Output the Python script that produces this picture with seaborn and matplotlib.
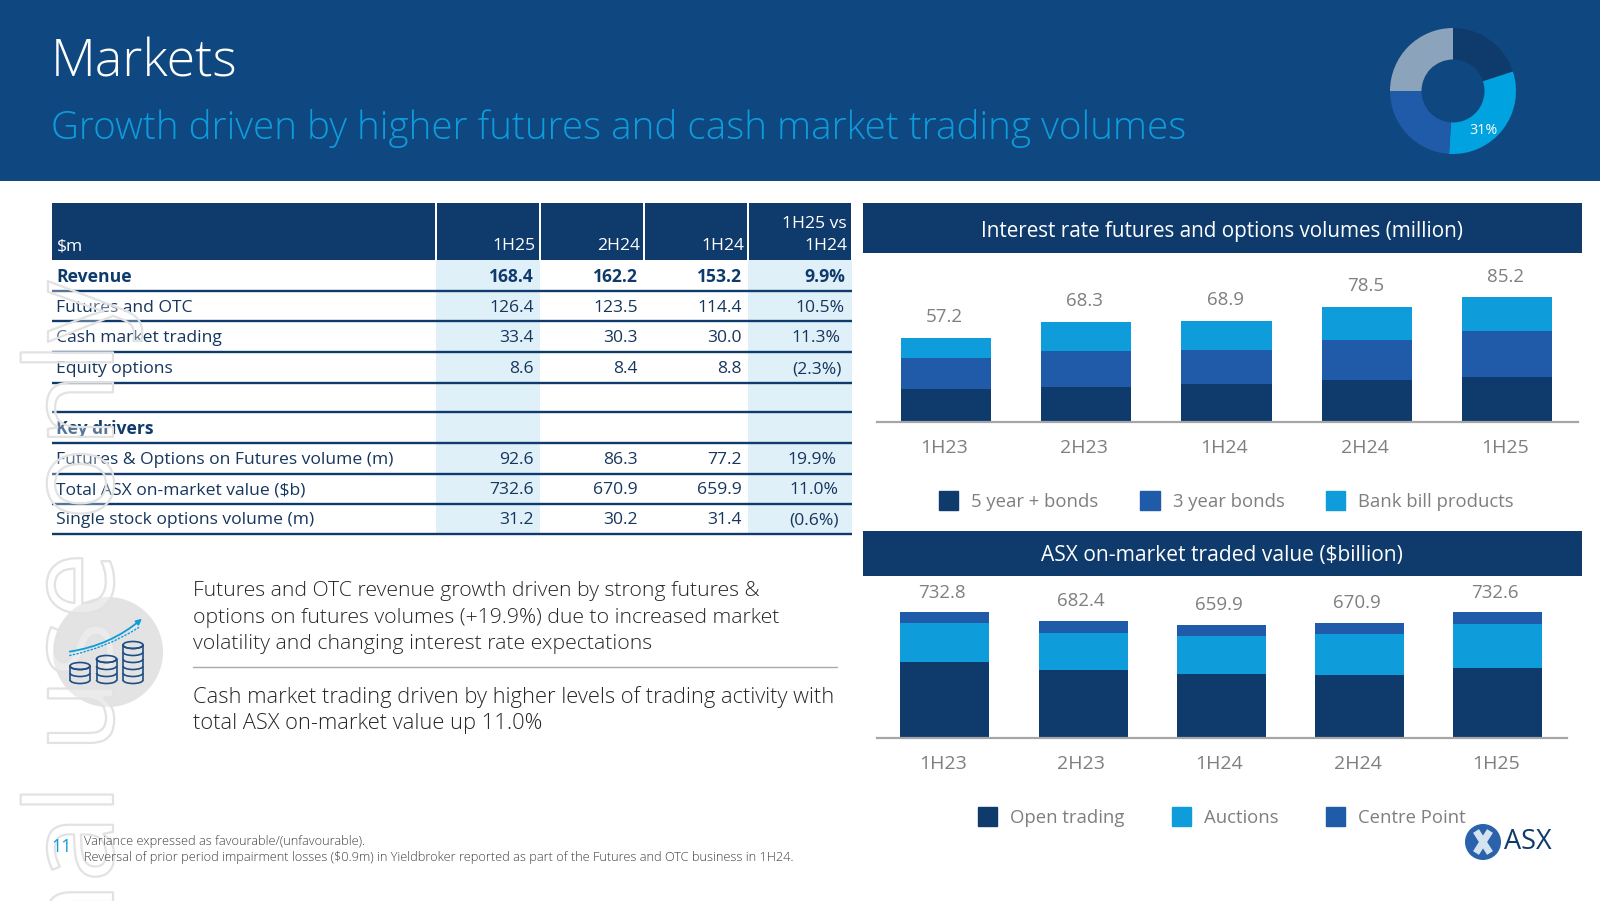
import numpy as np
import pandas as pd
import seaborn as sns
import matplotlib.pyplot as plt
from matplotlib.patches import Rectangle, Circle, Ellipse, Arc, Patch, FancyArrowPatch
from matplotlib.transforms import ScaledTranslation
import matplotlib.patheffects as pe

# chart data
periods = ["1H23", "2H23", "1H24", "2H24", "1H25"]
long_bonds = [22.4, 23.5, 25.8, 28.1, 30.2]
three_year = [21.0, 24.5, 23.3, 27.9, 31.6]
bank_bills = [13.8, 20.3, 19.8, 22.5, 23.4]
volume_labels = ["57.2", "68.3", "68.9", "78.5", "85.2"]

open_trading = [445, 396, 376, 366, 406]
auctions = [227, 219, 219, 239, 258]
centre_point = [60.8, 67.4, 64.9, 65.9, 68.6]
value_labels = ["732.8", "682.4", "659.9", "670.9", "732.6"]

# table
table_cols = ["1H25", "2H24", "1H24"]
row_names = ["Revenue", "Futures and OTC", "Cash market trading", "Equity options", "",
             "Key drivers", "Futures & Options on Futures volume (m)",
             "Total ASX on-market value ($b)", "Single stock options volume (m)"]
col_1h25 = ["168.4", "126.4", "33.4", "8.6", "", "", "92.6", "732.6", "31.2"]
col_2h24 = ["162.2", "123.5", "30.3", "8.4", "", "", "86.3", "670.9", "30.2"]
col_1h24 = ["153.2", "114.4", "30.0", "8.8", "", "", "77.2", "659.9", "31.4"]
col_var = ["9.9%", "10.5%", "11.3%", "(2.3%)", "", "", "19.9%", "11.0%", "(0.6%)"]

donut_vals = [20, 31, 24, 25]

NAVY = "#0F3B6C"
MID = "#1F5BA8"
SKY = "#0F9CDB"
BAND = "#0F4880"
GREY = "#7F7F7F"
TEXT = "#262626"
ROW_TEXT = "#17365D"

sns.set_theme(style="white")
plt.rcParams["font.family"] = ["Open Sans", "DejaVu Sans"]

W, H = 1600, 901
fig = plt.figure(figsize=(W / 100, H / 100), dpi=100)


def px_axes(left, top, right, bottom, **kw):
    return fig.add_axes([left / W, 1 - bottom / H, (right - left) / W, (bottom - top) / H], **kw)


bg = px_axes(0, 0, W, H)
bg.set_xlim(0, W)
bg.set_ylim(H, 0)
bg.axis("off")

# header
bg.add_patch(Rectangle((0, 0), W, 181, color=BAND, lw=0))
bg.text(51, 63, "Markets", color="white", fontsize=37.4, fontweight="light", va="center")
bg.text(51, 129, "Growth driven by higher futures and cash market trading volumes",
        color="#0E9BDC", fontsize=27.8, fontweight="light", va="center")

# watermark, white wash over whatever is under it
bg.text(113, 281, "For personal use only", rotation=90, rotation_mode="anchor", ha="right",
        va="baseline", fontsize=87.5, color=(1, 1, 1, 0.3), zorder=10,
        path_effects=[pe.Stroke(linewidth=1.6, foreground="#E2E2E2")])

# table
col_edges = [436, 540, 644, 748, 852]
row_lines = [260, 291, 321, 352, 383, 412, 443, 473.5, 504, 534]
bg.add_patch(Rectangle((52, 203), 383, 57, color=NAVY, lw=0))
for k in range(4):
    bg.add_patch(Rectangle((col_edges[k] + 1, 203), col_edges[k + 1] - col_edges[k] - 2, 57, color=NAVY, lw=0))
for k in [0, 3]:
    bg.add_patch(Rectangle((col_edges[k], 260), col_edges[k + 1] - col_edges[k], 274,
                           color="#DFF0F9", lw=0, zorder=0.8))
for y in row_lines[1:]:
    bg.plot([52, 852], [y, y], color=NAVY, lw=1.7, solid_capstyle="butt", zorder=2)

bg.text(57, 246, "$m", color="white", fontsize=12.6, va="center")
for k, lab in enumerate(table_cols):
    bg.text(col_edges[k + 1] - 4, 246, lab, color="white", fontsize=12.6, ha="right", va="center")
bg.text(847, 224, "1H25 vs", color="white", fontsize=12.6, ha="right", va="center")
bg.text(847, 246, "1H24", color="white", fontsize=12.6, ha="right", va="center")

var_right = [845, 845, 840, 842, 842, 842, 836, 838, 839]
for r, name in enumerate(row_names):
    yc = (row_lines[r] + row_lines[r + 1]) / 2 + 1.5
    weight = "bold" if r in (0, 5) else "normal"
    colour = NAVY if r in (0, 5) else ROW_TEXT
    bg.text(56.5, yc, name, color=colour, fontsize=12.6, fontweight=weight, va="center", zorder=3)
    for k, col in enumerate([col_1h25, col_2h24, col_1h24]):
        bg.text(col_edges[k + 1] - 6, yc, col[r], color=colour, fontsize=12.6, fontweight=weight,
                ha="right", va="center", zorder=3)
    bg.text(var_right[r], yc, col_var[r], color=colour, fontsize=12.6, fontweight=weight,
            ha="right", va="center", zorder=3)

# commentary
para1 = ["Futures and OTC revenue growth driven by strong futures &",
         "options on futures volumes (+19.9%) due to increased market",
         "volatility and changing interest rate expectations"]
para2 = ["Cash market trading driven by higher levels of trading activity with",
         "total ASX on-market value up 11.0%"]
for line, y in zip(para1, [591, 617.5, 644]):
    bg.text(193, y, line, color=TEXT, fontsize=15.35, fontweight="light", va="center")
for line, y in zip(para2, [697, 723.5]):
    bg.text(193, y, line, color=TEXT, fontsize=15.75, fontweight="light", va="center")
bg.plot([193, 837], [667, 667], color="#ABABAB", lw=1.0)

# coins icon
bg.add_patch(Circle((108, 652), 55, color="#E3E3E3", lw=0, zorder=1))
COIN = "#1F4E84"
for cx, n in [(80, 3), (106.5, 4), (133, 6)]:
    base = 680
    top = base - (n - 1) * 7
    bg.add_patch(Ellipse((cx, top), 20, 7, fc="none", ec=COIN, lw=1.2, zorder=11))
    for j in range(n):
        bg.add_patch(Arc((cx, base - j * 7), 20, 7, theta1=0, theta2=180, ec=COIN, lw=1.2, zorder=11))
    bg.plot([cx - 10, cx - 10], [top, base], color=COIN, lw=1.2, zorder=11)
    bg.plot([cx + 10, cx + 10], [top, base], color=COIN, lw=1.2, zorder=11)
bg.add_patch(FancyArrowPatch((67, 652), (144, 617), connectionstyle="arc3,rad=0.15", arrowstyle="-|>",
                             mutation_scale=8, color=SKY, lw=1.3, zorder=11))
bg.add_patch(FancyArrowPatch((67, 656), (141, 626), connectionstyle="arc3,rad=0.1", arrowstyle="-",
                             color=SKY, lw=1.0, linestyle=":", zorder=11))

# footer sits above the watermark
bg.text(51, 847, "11", color="#0E9BDC", fontsize=13, va="center", zorder=11)
bg.text(84, 841, "Variance expressed as favourable/(unfavourable).", color="#404040", fontsize=9.2,
        fontweight="light", va="center", zorder=11)
bg.text(84, 857, "Reversal of prior period impairment losses ($0.9m) in Yieldbroker reported as part of the "
        "Futures and OTC business in 1H24.", color="#404040", fontsize=9.2, fontweight="light",
        va="center", zorder=11)

# logo
bg.add_patch(Circle((1483, 842), 18, color="#2A62AC", lw=0, zorder=3))
bg.plot([1476, 1490], [831, 853], color="#D5E3F1", lw=5, zorder=4, solid_capstyle="butt")
bg.plot([1490, 1476], [831, 853], color="#D5E3F1", lw=5, zorder=4, solid_capstyle="butt")
bg.text(1504, 842, "ASX", color=NAVY, fontsize=19.5, va="center", zorder=4)

# chart title bands
bg.add_patch(Rectangle((863, 203), 719, 50, color=NAVY, lw=0))
bg.text(1222, 231, "Interest rate futures and options volumes (million)", color="white",
        fontsize=14.85, ha="center", va="center")
bg.add_patch(Rectangle((863, 531), 719, 44.5, color=NAVY, lw=0))
bg.text(1222, 555, "ASX on-market traded value ($billion)", color="white",
        fontsize=15.1, ha="center", va="center")


def stacked(ax, series, colours, labels, ymax, xlim, legend_at, col_space):
    df = pd.DataFrame(dict(zip(labels, series)), index=periods)
    tops = df.cumsum(axis=1)
    # tallest first so the lower segments paint over it
    for name, colour in reversed(list(zip(labels, colours))):
        sns.barplot(x=periods, y=tops[name].values, color=colour, width=0.644, saturation=1,
                    linewidth=0, ax=ax)
    ax.set_xlim(*xlim)
    ax.set_ylim(0, ymax)
    ax.patch.set_alpha(0)
    ax.set_yticks([])
    ax.set_ylabel("")
    sns.despine(ax=ax, left=True)
    ax.spines["bottom"].set_color("#A6A6A6")
    ax.spines["bottom"].set_linewidth(1.6)
    ax.tick_params(axis="x", length=0, pad=12.5, labelsize=14, labelcolor=GREY)
    nudge = ScaledTranslation(-2 / 100, 0, fig.dpi_scale_trans)
    for lab in ax.get_xticklabels():
        lab.set_transform(lab.get_transform() + nudge)
    handles = [Patch(color=c, label=n) for n, c in zip(labels, colours)]
    ax.legend(handles=handles, ncol=3, frameon=False, loc="center", bbox_to_anchor=legend_at,
              bbox_transform=fig.transFigure, fontsize=13.3, labelcolor=GREY, handlelength=1.05,
              handleheight=1.2, handletextpad=0.7, columnspacing=col_space)


ax1 = px_axes(876.5, 261, 1578, 421.5)
stacked(ax1, [long_bonds, three_year, bank_bills], [NAVY, MID, SKY],
        ["5 year + bonds", "3 year bonds", "Bank bill products"], 110, (-0.4955, 4.506),
        (1226.5 / W, 1 - 501 / H), 2.25)
for i, lab in enumerate(volume_labels):
    total = long_bonds[i] + three_year[i] + bank_bills[i]
    ax1.annotate(lab, (i, total), xytext=(-1, 14.8), textcoords="offset points", ha="center",
                 va="center", fontsize=13.5, color=GREY)

ax2 = px_axes(876.5, 580, 1567, 738)
stacked(ax2, [open_trading, auctions, centre_point], [NAVY, SKY, MID],
        ["Open trading", "Auctions", "Centre Point"], 922, (-0.495, 4.5),
        (1222 / W, 1 - 817 / H), 2.55)
for i, lab in enumerate(value_labels):
    total = open_trading[i] + auctions[i] + centre_point[i]
    ax2.annotate(lab, (i, total), xytext=(-2, 14.2), textcoords="offset points", ha="center",
                 va="center", fontsize=13.5, color=GREY)

# donut in the header
ax_d = px_axes(1453 - 64, 91 - 64, 1453 + 64, 91 + 64)
ax_d.pie(donut_vals, colors=[NAVY, "#00A3E0", MID, "#8CA3BC"], startangle=90, counterclock=False,
         radius=1.0, wedgeprops=dict(width=0.5, linewidth=0))
ax_d.set_xlim(-64 / 63, 64 / 63)
ax_d.set_ylim(-64 / 63, 64 / 63)
ax_d.patch.set_alpha(0)
ax_d.text(30 / 63, -39 / 63, "31%", color="white", fontsize=10.3, ha="center", va="center")

fig.savefig("out.png", dpi=100)
